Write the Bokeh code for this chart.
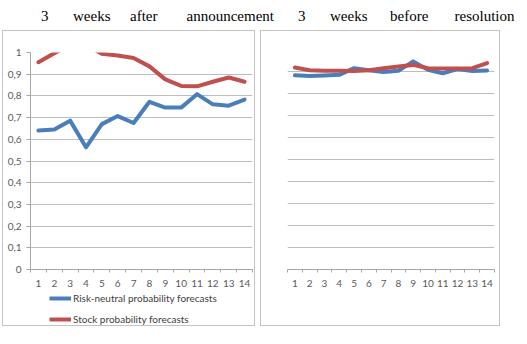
from bokeh.plotting import figure
from bokeh.models import Range1d, FixedTicker, Legend, LegendItem, Label, Spacer
from bokeh.layouts import column, row
from bokeh.embed import file_html
from bokeh.resources import INLINE

# ---------------- data ----------------
categories = list(range(1, 15))
y_ticks = [0.0, 0.1, 0.2, 0.3, 0.4, 0.5, 0.6, 0.7, 0.8, 0.9, 1.0]
y_tick_labels = ["0", "0,1", "0,2", "0,3", "0,4", "0,5", "0,6", "0,7", "0,8", "0,9", "1"]

left_risk_neutral = [0.640, 0.645, 0.686, 0.563, 0.670, 0.707, 0.675, 0.773, 0.746, 0.746, 0.808, 0.761, 0.755, 0.783]
left_stock = [0.955, 0.997, 1.035, 1.035, 0.994, 0.986, 0.975, 0.936, 0.876, 0.846, 0.844, 0.865, 0.885, 0.865]
right_risk_neutral = [0.883, 0.880, 0.882, 0.885, 0.915, 0.906, 0.898, 0.903, 0.946, 0.908, 0.892, 0.911, 0.902, 0.905]
right_stock = [0.918, 0.906, 0.903, 0.903, 0.902, 0.906, 0.915, 0.923, 0.930, 0.915, 0.914, 0.914, 0.915, 0.938]

series_names = ["Risk-neutral probability forecasts", "Stock probability forecasts"]
title_words = ["3", "weeks", "after", "announcement", "3", "weeks", "before", "resolution"]

# ---------------- style / layout ----------------
BLUE = "#4a7ebb"
RED = "#c0504d"
GRID = "#bdbdbd"
AXIS = "#a6a6a6"
LABEL = "#595959"
FONT = "Lato"
BORDER = "1px solid #c4c4c4"
title_word_x = [40.5, 72.5, 129.5, 186, 297.5, 329.5, 389.5, 454]


def make_panel(width, height, b_left, b_right, b_top, b_bottom, show_y):
    p = figure(width=width, height=height, x_range=Range1d(0.5, 14.5), y_range=Range1d(0, 1),
               output_backend="svg", toolbar_location=None,
               min_border_left=b_left, min_border_right=b_right,
               min_border_top=b_top, min_border_bottom=b_bottom)
    p.outline_line_color = None
    p.background_fill_color = "white"
    p.border_fill_color = "white"
    p.xgrid.visible = False
    p.ygrid.ticker = FixedTicker(ticks=y_ticks)
    p.ygrid.grid_line_color = GRID
    p.ygrid.grid_line_width = 1.2

    xa = p.xaxis[0]
    xa.ticker = FixedTicker(ticks=categories, minor_ticks=[c - 0.5 for c in categories] + [14.5])
    xa.axis_line_color = AXIS
    xa.major_tick_line_color = None
    xa.major_tick_in = 0
    xa.major_tick_out = 0
    xa.minor_tick_line_color = AXIS
    xa.minor_tick_in = 0
    xa.minor_tick_out = 3
    xa.major_label_text_font = FONT
    xa.major_label_text_font_size = "10px"
    xa.major_label_text_color = LABEL
    xa.major_label_standoff = 7

    ya = p.yaxis[0]
    ya.ticker = FixedTicker(ticks=y_ticks)
    ya.major_label_overrides = dict(zip(y_ticks, y_tick_labels))
    ya.minor_tick_line_color = None
    if show_y:
        ya.axis_line_color = AXIS
        ya.major_tick_line_color = AXIS
        ya.major_tick_in = 0
        ya.major_tick_out = 4
        ya.major_label_text_font = FONT
        ya.major_label_text_font_size = "10px"
        ya.major_label_text_color = LABEL
        ya.major_label_standoff = 5
    else:
        ya.visible = False
    return p


# left chart (plot part)
left = make_panel(253, 262, 27, 4, 21, 24, True)
left.line(categories, left_risk_neutral, line_color=BLUE, line_width=4, line_join="round", line_cap="round")
left.line(categories, left_stock, line_color=RED, line_width=4, line_join="round", line_cap="round")
left.styles = {"border": BORDER, "border-bottom": "none"}

# left chart (legend part): the same series, kept outside this strip's visible range,
# only so that the legend can draw its line samples
leg = figure(width=253, height=34, x_range=Range1d(100, 101), y_range=Range1d(0, 1),
             x_axis_type=None, y_axis_type=None, output_backend="svg", toolbar_location=None,
             min_border=0)
leg.outline_line_color = None
lr1 = leg.line(categories, left_risk_neutral, line_color=BLUE, line_width=4)
lr2 = leg.line(categories, left_stock, line_color=RED, line_width=4)
legend = Legend(items=[LegendItem(label=series_names[0], renderers=[lr1]),
                       LegendItem(label=series_names[1], renderers=[lr2])],
                location=(19, 1), orientation="vertical",
                padding=0, margin=0, spacing=9,
                glyph_width=22, glyph_height=12, label_height=12, label_standoff=2,
                label_text_font=FONT, label_text_font_size="10px", label_text_color="#404040",
                border_line_color=None, background_fill_alpha=0)
leg.add_layout(legend, "center")
leg.styles = {"border": BORDER, "border-top": "none"}

# right chart
right = make_panel(240, 296, 26, 7, 18, 58, False)
right.line(categories, right_risk_neutral, line_color=BLUE, line_width=4, line_join="round", line_cap="round")
right.line(categories, right_stock, line_color=RED, line_width=4, line_join="round", line_cap="round")
right.styles = {"border": BORDER}

# title words (justified line)
title = figure(width=527, height=30, x_range=Range1d(0, 527), y_range=Range1d(30, 0),
               x_axis_type=None, y_axis_type=None, output_backend="svg", toolbar_location=None,
               min_border=0)
title.outline_line_color = None
for word, xpos in zip(title_words, title_word_x):
    title.add_layout(Label(x=xpos, y=15, text=word, text_font="Liberation Serif",
                           text_font_size="15px", text_color="#000000",
                           text_baseline="alphabetic", text_align="left"))

layout = column(title, row(Spacer(width=2, height=298), column(left, leg),
                           Spacer(width=5, height=298), right))

open("out.html", "w").write(file_html(layout, INLINE))
